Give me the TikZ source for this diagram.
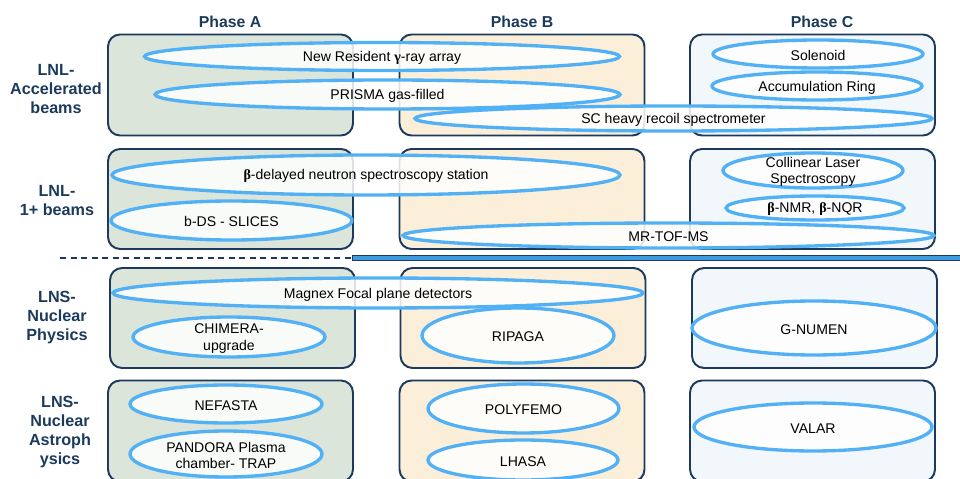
\documentclass[tikz,border=0pt]{standalone}
\usepackage{fontspec}
\setmainfont{Liberation Sans}
\newfontfamily\greekfont{Liberation Serif}
\newcommand\bgreek[1]{{\greekfont\bfseries #1}}
\usetikzlibrary{shapes.geometric,positioning}
\definecolor{navy}{HTML}{1B3A5C}
\definecolor{ringblue}{HTML}{52B0F5}
\definecolor{sepblue}{HTML}{3D9BE0}
\definecolor{fillA}{HTML}{DCE5D9}
\definecolor{fillB}{HTML}{FBEFDA}
\definecolor{fillC}{HTML}{F2F7FC}

\begin{document}
\begin{tikzpicture}[
			x = 0.02cm, y = -0.02cm,
			phase/.style = {draw=navy, line width=1.1pt, rounded corners=0.24cm,
				minimum width=4.9cm, minimum height=2.02cm, inner sep=0pt},
			head/.style = {font=\fontsize{9}{10.8}\selectfont\bfseries, text=navy},
			row/.style = {font=\fontsize{9.2}{10.8}\selectfont\bfseries, text=navy, align=center},
			det/.style = {ellipse, draw=ringblue, line width=1.9pt, fill=white,
				fill opacity=0.85, inner sep=0pt},
			lab/.style = {font=\fontsize{8}{9.4}\selectfont, text=black, align=center,
				text opacity=1, fill opacity=1, yshift=-0.8pt},
			sepbar/.style = {draw=navy, fill=sepblue, line width=0.8pt, inner sep=0pt,
				minimum height=0.09cm, anchor=west}]

			\useasboundingbox (0,0) rectangle (960,479);

			% column heads
			\node[head] (hA) at (230,22) {Phase A};
			\node[head] (hB) at (522,22) {Phase B};
			\node[head] (hC) at (822,22) {Phase C};

			% row heads
			\node[row] (rAcc) at (56,89) {LNL-\\Accelerated\\beams};
			\node[row] (rOne) at (57,201) {LNL-\\1+ beams};
			\node[row] (rPhy) at (57,318) {LNS-\\Nuclear\\Physics};
			\node[row] (rAst) at (60,432) {LNS-\\Nuclear\\Astroph\\ysics};

			% phase boxes
			\node[phase,fill=fillA] (accA) at (230.5,85) {};
			\node[phase,fill=fillB] (accB) at (522,85) {};
			\node[phase,fill=fillC] (accC) at (812.5,85) {};
			\node[phase,fill=fillA,minimum height=2cm] (oneA) at (230.5,199) {};
			\node[phase,fill=fillB,minimum height=2cm] (oneB) at (522,199) {};
			\node[phase,fill=fillC,minimum height=2cm] (oneC) at (812.5,199) {};
			\node[phase,fill=fillA,minimum height=2cm] (phyA) at (232.5,318) {};
			\node[phase,fill=fillB,minimum height=2cm] (phyB) at (523,318) {};
			\node[phase,fill=fillC,minimum height=2cm] (phyC) at (814.5,318) {};
			\node[phase,fill=fillA] (astA) at (230.5,431) {};
			\node[phase,fill=fillB] (astB) at (522,431) {};
			\node[phase,fill=fillC] (astC) at (812.5,431) {};

			% LNL / LNS divide
			\node[sepbar,minimum width=12.3cm] (sep) at (352,258) {};
			\coordinate (dashstart) at (60,258);
			\draw[navy,line width=1pt,dash pattern=on 3.5pt off 2.5pt] (dashstart) -- (sep.west);

			% detectors, accelerated beams
			\node[det,minimum width=9.5cm,minimum height=0.56cm,
				label={[lab]center:New Resident \bgreek{γ}-ray array}] (gamma) at (382,56.5) {};
			\node[det,minimum width=9.3cm,minimum height=0.58cm,
				label={[lab]center:PRISMA gas-filled}] (prisma) at (387.5,94.5) {};
			\node[det,minimum width=10.34cm,minimum height=0.5cm,
				label={[lab]center:SC heavy recoil spectrometer}] (schrs) at (673.5,118.5) {};
			\node[det,minimum width=4.2cm,minimum height=0.56cm,
				label={[lab]center:Solenoid}] (solenoid) at (818,54) {};
			\node[det,minimum width=4.2cm,minimum height=0.56cm,
				label={[lab]center:Accumulation Ring}] (ring) at (817,86) {};

			% detectors, 1+ beams
			\node[det,minimum width=10.16cm,minimum height=0.8cm,
				label={[lab]center:\bgreek{β}-delayed neutron spectroscopy station}] (bdn) at (366,175) {};
			\node[det,minimum width=4.82cm,minimum height=0.78cm,
				label={[lab]center:b-DS - SLICES}] (bds) at (231.5,220.5) {};
			\node[det,minimum width=10.62cm,minimum height=0.5cm,
				label={[lab]center:MR-TOF-MS}] (mrtof) at (668.5,235.5) {};
			\node[det,minimum width=3.6cm,minimum height=0.7cm,
				label={[lab]center:Collinear Laser\\Spectroscopy}] (cls) at (813,170.5) {};
			\node[det,minimum width=3.56cm,minimum height=0.48cm,
				label={[lab]center:\bgreek{β}-NMR, \bgreek{β}-NQR}] (nmr) at (815,208) {};

			% detectors, nuclear physics
			\node[det,minimum width=10.6cm,minimum height=0.6cm,
				label={[lab]center:Magnex Focal plane detectors}] (magnex) at (378,293) {};
			\node[det,minimum width=3.84cm,minimum height=0.8cm,
				label={[lab]center:CHIMERA-\\upgrade}] (chimera) at (229,337) {};
			\node[det,minimum width=3.84cm,minimum height=1.1cm,
				label={[lab]center:RIPAGA}] (ripaga) at (518,335.5) {};
			\node[det,minimum width=4.88cm,minimum height=1.08cm,
				label={[lab]center:G-NUMEN}] (gnumen) at (814,328) {};

			% detectors, nuclear astrophysics
			\node[det,minimum width=3.84cm,minimum height=0.76cm,
				label={[lab]center:NEFASTA}] (nefasta) at (226,404) {};
			\node[det,minimum width=3.84cm,minimum height=0.92cm,
				label={[lab]center:PANDORA Plasma\\chamber- TRAP}] (pandora) at (226,454) {};
			\node[det,minimum width=3.82cm,minimum height=0.98cm,
				label={[lab]center:POLYFEMO}] (polyfemo) at (523.5,408.5) {};
			\node[det,minimum width=3.8cm,minimum height=0.8cm,
				label={[lab]center:LHASA}] (lhasa) at (523,460) {};
			\node[det,minimum width=4.76cm,minimum height=0.96cm,
				label={[lab]center:VALAR}] (valar) at (813,427) {};

		\end{tikzpicture}
\end{document}
